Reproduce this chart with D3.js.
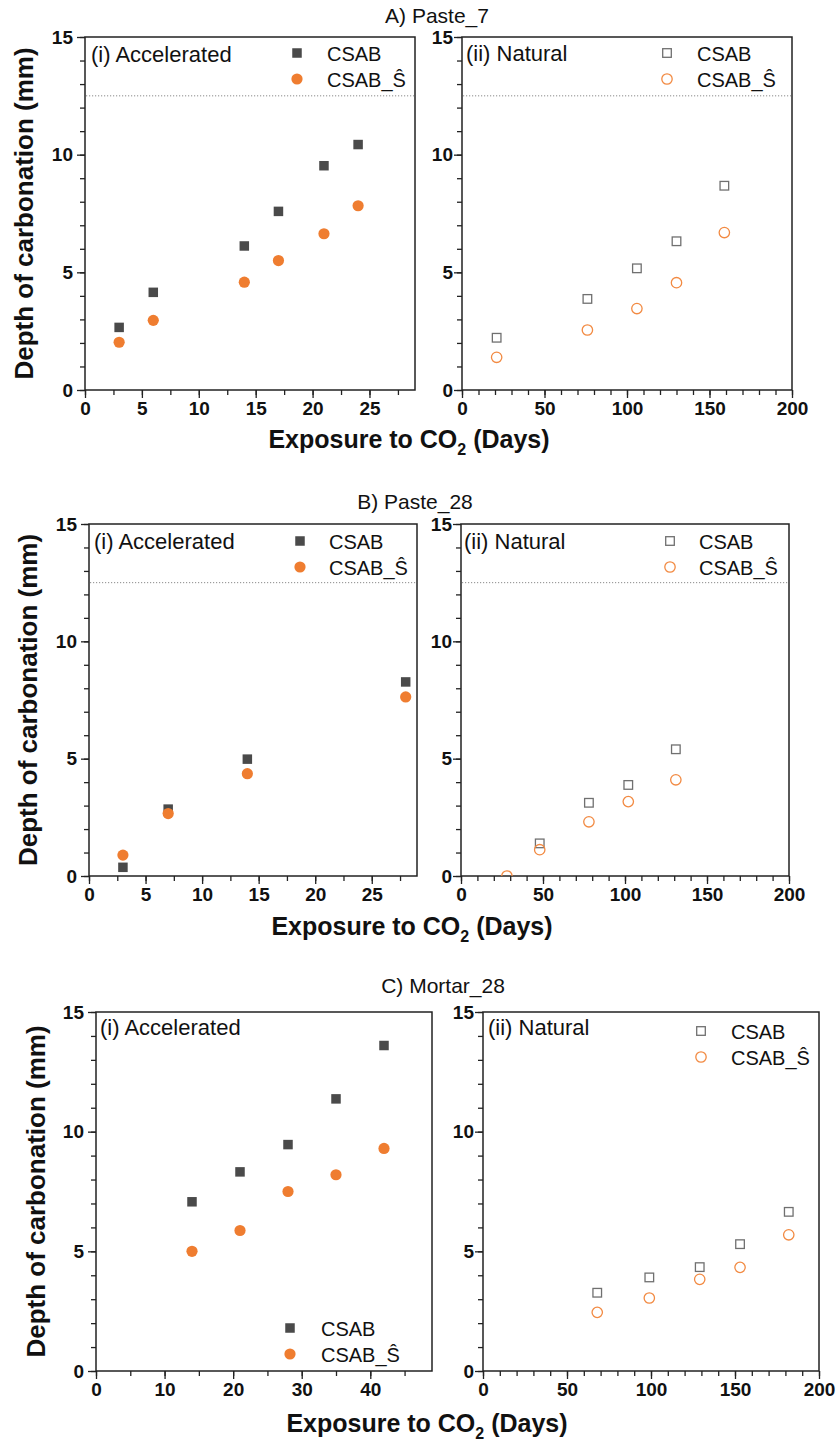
<!DOCTYPE html>
<html>
<head>
<meta charset="utf-8">
<script src="https://cdn.jsdelivr.net/npm/d3@7"></script>
<style>
  body { margin: 0; background: #fff; }
  text { font-family: "Liberation Sans", Arial, sans-serif; fill: #111; }
  .tick text { font-size: 19px !important; font-weight: bold !important; font-family: "Liberation Sans", Arial, sans-serif !important; fill: #111 !important; }
</style>
</head>
<body>
<div id="chart"></div>
<script>
// values
var titles = ["A) Paste_7", "B) Paste_28", "C) Mortar_28"];
var seriesNames = ["CSAB", "CSAB_\u015C"];

var daysP7Acc = [3, 6, 14, 17, 21, 24];
var csabP7Acc = [2.66, 4.15, 6.12, 7.59, 9.53, 10.43];
var csabSP7Acc = [2.03, 2.96, 4.58, 5.50, 6.64, 7.83];

var daysP7Nat = [21, 76, 106, 130, 159];
var csabP7Nat = [2.22, 3.87, 5.17, 6.32, 8.68];
var csabSP7Nat = [1.39, 2.55, 3.46, 4.56, 6.69];

var daysP28Acc = [3, 7, 14, 28];
var csabP28Acc = [0.37, 2.85, 4.98, 8.27];
var csabSP28Acc = [0.89, 2.66, 4.36, 7.63];

var daysP28Nat = [28, 48, 78, 102, 131];
var csabP28Nat = [null, 1.39, 3.12, 3.88, 5.40];
var csabSP28Nat = [0, 1.12, 2.31, 3.17, 4.10];

var daysM28Acc = [14, 21, 28, 35, 42];
var csabM28Acc = [7.07, 8.32, 9.46, 11.37, 13.6];
var csabSM28Acc = [5.0, 5.87, 7.5, 8.2, 9.3];

var daysM28Nat = [68, 99, 129, 153, 182];
var csabM28Nat = [3.27, 3.91, 4.34, 5.30, 6.65];
var csabSM28Nat = [2.45, 3.05, 3.83, 4.33, 5.69];

var yTicks = [0, 5, 10, 15];
var pasteAccTicks = [0, 5, 10, 15, 20, 25];
var mortarAccTicks = [0, 10, 20, 30, 40];
var natTicks = [0, 50, 100, 150, 200];
var refDepth = 12.5;

var W = 839, H = 1441;
var svg = d3.select("#chart").append("svg")
    .attr("width", W)
    .attr("height", H);

var dark = "#4a4a4a", orange = "#ef7d30", openGrey = "#707070", openOrange = "#f28a42";

var panels = [
  {x0: 85, x1: 415, y0: 37, y1: 390, xMax: 29, ticks: pasteAccTicks, minor: 2.5, filled: true,
   days: daysP7Acc, a: csabP7Acc, b: csabSP7Acc, ref: true, label: "(i) Accelerated",
   lab: [91, 62], leg: [297, 53, 327], pad: 4},
  {x0: 462, x1: 792, y0: 37, y1: 390, xMax: 200, ticks: natTicks, minor: 10, filled: false,
   days: daysP7Nat, a: csabP7Nat, b: csabSP7Nat, ref: true, label: "(ii) Natural",
   lab: [466, 61], leg: [667, 53, 697], pad: 1},
  {x0: 89, x1: 417, y0: 524, y1: 876, xMax: 29, ticks: pasteAccTicks, minor: 2.5, filled: true,
   days: daysP28Acc, a: csabP28Acc, b: csabSP28Acc, ref: true, label: "(i) Accelerated",
   lab: [94, 549], leg: [300, 541, 329], pad: 4},
  {x0: 461, x1: 789, y0: 524, y1: 876, xMax: 200, ticks: natTicks, minor: 10, filled: false,
   days: daysP28Nat, a: csabP28Nat, b: csabSP28Nat, ref: true, label: "(ii) Natural",
   lab: [464, 549], leg: [670, 541, 699], pad: 1},
  {x0: 96, x1: 432, y0: 1012, y1: 1371, xMax: 49, ticks: mortarAccTicks, minor: 5, filled: true,
   days: daysM28Acc, a: csabM28Acc, b: csabSM28Acc, ref: false, label: "(i) Accelerated",
   lab: [100, 1035], leg: [290, 1328, 321], pad: 4},
  {x0: 483, x1: 819, y0: 1012, y1: 1371, xMax: 200, ticks: natTicks, minor: 10, filled: false,
   days: daysM28Nat, a: csabM28Nat, b: csabSM28Nat, ref: false, label: "(ii) Natural",
   lab: [488, 1035], leg: [701, 1031, 731], pad: 1}
];

panels.forEach(function(p, i) {
  var x = d3.scaleLinear().domain([0, p.xMax]).range([p.x0, p.x1]);
  var y = d3.scaleLinear().domain([0, 15]).range([p.y1, p.y0]);
  var g = svg.append("g");

  // minor ticks
  g.append("g")
    .attr("transform", "translate(0," + p.y1 + ")")
    .call(d3.axisBottom(x).tickValues(d3.range(0, p.xMax + 0.01, p.minor)).tickSize(5).tickFormat(""))
    .call(function(a) { a.select(".domain").remove(); });
  g.append("g")
    .attr("transform", "translate(" + p.x0 + ",0)")
    .call(d3.axisLeft(y).tickValues(d3.range(0, 15.01, 1)).tickSize(5).tickFormat(""))
    .call(function(a) { a.select(".domain").remove(); });

  // major ticks + labels
  var xa = g.append("g")
    .attr("transform", "translate(0," + p.y1 + ")")
    .call(d3.axisBottom(x).tickValues(p.ticks).tickSize(8).tickPadding(4));
  var ya = g.append("g")
    .attr("transform", "translate(" + p.x0 + ",0)")
    .call(d3.axisLeft(y).tickValues(yTicks).tickSize(8).tickPadding(p.pad));
  [xa, ya].forEach(function(a) {
    a.select(".domain").remove();
    a.attr("font-size", 19).attr("font-weight", "bold").attr("font-family", "Liberation Sans, Arial, sans-serif");
  });
  g.selectAll(".tick line").attr("stroke", "#222").attr("stroke-width", 1.3);

  // frame
  g.append("rect")
    .attr("x", p.x0).attr("y", p.y0)
    .attr("width", p.x1 - p.x0).attr("height", p.y1 - p.y0)
    .attr("fill", "none").attr("stroke", "#222").attr("stroke-width", 1.5);

  if (p.ref) {
    g.append("line")
      .attr("x1", p.x0 + 1).attr("x2", p.x1 - 1)
      .attr("y1", y(refDepth)).attr("y2", y(refDepth))
      .attr("stroke", "#8a8a8a").attr("stroke-width", 1)
      .attr("stroke-dasharray", "1.2,1.8");
  }

  var clipId = "clip" + i;
  svg.append("clipPath").attr("id", clipId).append("rect")
    .attr("x", p.x0).attr("y", p.y0).attr("width", p.x1 - p.x0).attr("height", p.y1 - p.y0);
  var marks = g.append("g").attr("clip-path", "url(#" + clipId + ")");

  var ptsA = p.days.map(function(d, k) { return {x: d, y: p.a[k]}; }).filter(function(d) { return d.y != null; });
  var ptsB = p.days.map(function(d, k) { return {x: d, y: p.b[k]}; }).filter(function(d) { return d.y != null; });

  function square(sel, s) {
    if (p.filled) sel.attr("fill", dark).attr("stroke", "none");
    else sel.attr("fill", "none").attr("stroke", openGrey).attr("stroke-width", 1.3);
    sel.attr("width", s).attr("height", s);
  }
  function circ(sel, r) {
    if (p.filled) sel.attr("fill", orange).attr("stroke", "none");
    else sel.attr("fill", "none").attr("stroke", openOrange).attr("stroke-width", 1.3);
    sel.attr("r", r);
  }

  var sq = p.filled ? 9.5 : 8.6;
  var cr = p.filled ? 5.6 : 5.2;

  marks.selectAll("rect.a").data(ptsA).enter().append("rect")
    .attr("class", "a")
    .attr("x", function(d) { return x(d.x) - sq / 2; })
    .attr("y", function(d) { return y(d.y) - sq / 2; })
    .call(square, sq);
  marks.selectAll("circle.b").data(ptsB).enter().append("circle")
    .attr("class", "b")
    .attr("cx", function(d) { return x(d.x); })
    .attr("cy", function(d) { return y(d.y); })
    .call(circ, cr);

  // panel label and legend
  g.append("text").attr("x", p.lab[0]).attr("y", p.lab[1])
    .style("font-size", "22px").text(p.label);

  var lx = p.leg[0], ly = p.leg[1], tx = p.leg[2];
  g.append("rect").attr("x", lx - sq / 2).attr("y", ly - sq / 2).call(square, sq);
  g.append("circle").attr("cx", lx).attr("cy", ly + 26).call(circ, cr);
  g.append("text").attr("x", tx).attr("y", ly + 7.5).style("font-size", "20px").text(seriesNames[0]);
  g.append("text").attr("x", tx).attr("y", ly + 33.5).style("font-size", "20px").text(seriesNames[1]);
});

// row titles
var titlePos = [[437, 23], [415, 509], [443, 993]];
titles.forEach(function(t, i) {
  svg.append("text").attr("x", titlePos[i][0]).attr("y", titlePos[i][1])
    .attr("text-anchor", "middle").style("font-size", "21px").text(t);
});

// axis titles
var yLab = [[33, 213.5], [37, 700], [45, 1191.5]];
yLab.forEach(function(d) {
  svg.append("text")
    .attr("transform", "translate(" + d[0] + "," + d[1] + ") rotate(-90)")
    .attr("text-anchor", "middle")
    .style("font-size", "26px").style("font-weight", "bold")
    .text("Depth of carbonation (mm)");
});

var xLab = [[409, 448], [412, 935], [427, 1432]];
xLab.forEach(function(d) {
  var t = svg.append("text")
    .attr("x", d[0]).attr("y", d[1])
    .attr("text-anchor", "middle")
    .style("font-size", "25px").style("font-weight", "bold");
  t.append("tspan").text("Exposure to CO");
  t.append("tspan").attr("dy", 7).style("font-size", "16px").text("2");
  t.append("tspan").attr("dy", -7).text(" (Days)");
});
</script>
</body>
</html>
